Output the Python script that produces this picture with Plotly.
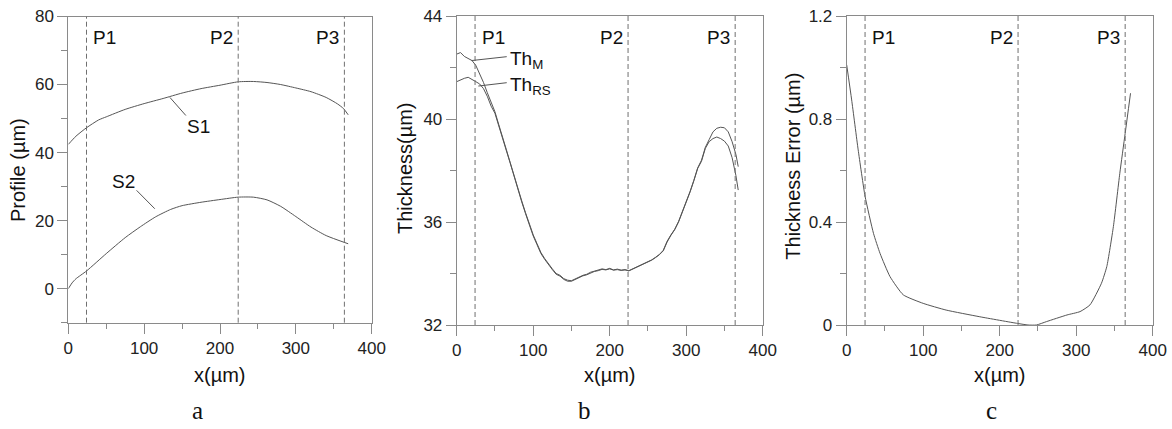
import plotly.graph_objects as go

# ---------------- data ----------------
P_POS = [24, 224, 364]
P_LABELS = ["P1", "P2", "P3"]

# panel a
S1_X = [0, 10, 24, 40, 50, 75, 100, 125, 150, 175, 200, 224, 244, 262, 280, 300, 320, 340, 355, 363, 369]
S1_Y = [42.4, 44.8, 47.3, 49.6, 50.5, 52.7, 54.4, 55.9, 57.5, 58.8, 59.8, 60.8, 60.9, 60.6, 60.0, 59.0, 57.9, 56.2, 54.3, 52.9, 51.1]
S2_X = [0, 5, 10, 24, 50, 75, 95, 115, 135, 150, 175, 200, 224, 244, 262, 280, 300, 320, 340, 369]
S2_Y = [0, 1.7, 2.9, 5.2, 10.3, 15.0, 18.2, 21.1, 23.3, 24.4, 25.4, 26.2, 26.9, 26.9, 26.1, 24.2, 21.2, 18.1, 15.6, 13.2]

# panel b
TH_X = [0, 5, 10, 15, 20, 25, 30, 35, 40, 45, 50, 55, 60, 65, 70, 75, 80, 85, 90, 95,
        100, 105, 110, 115, 120, 125, 130, 135, 140, 145, 150, 155, 160, 165, 170, 175,
        180, 185, 190, 195, 200, 205, 210, 215, 220, 225, 230, 235, 240, 245, 250, 255,
        260, 265, 270, 275, 280, 285, 290, 295, 300, 305, 310, 315, 320, 325, 330, 335,
        340, 345, 350, 355, 360, 365, 368]
TH_M = [42.52, 42.58, 42.43, 42.36, 42.27, 42.08, 41.78, 41.42, 41.02, 40.66, 40.28, 39.78,
        39.25, 38.80, 38.30, 37.80, 37.25, 36.82, 36.36, 35.92, 35.50, 35.16, 34.82, 34.58,
        34.36, 34.18, 34.00, 33.93, 33.80, 33.74, 33.72, 33.80, 33.86, 33.93, 33.97, 34.05,
        34.09, 34.13, 34.18, 34.15, 34.20, 34.14, 34.17, 34.13, 34.15, 34.11, 34.18, 34.24,
        34.30, 34.36, 34.45, 34.53, 34.63, 34.74, 34.90, 35.25, 35.50, 35.72, 36.02, 36.40,
        36.80, 37.18, 37.62, 38.10, 38.40, 38.90, 39.20, 39.50, 39.64, 39.68, 39.66, 39.50,
        39.12, 38.62, 38.15]
TH_RS = [41.45, 41.52, 41.58, 41.62, 41.52, 41.45, 41.36, 41.18, 40.88, 40.50, 40.22, 39.76,
         39.22, 38.76, 38.28, 37.76, 37.22, 36.78, 36.32, 35.88, 35.46, 35.12, 34.78, 34.55,
         34.33, 34.15, 33.97, 33.90, 33.77, 33.70, 33.70, 33.78, 33.84, 33.91, 33.95, 34.03,
         34.08, 34.11, 34.16, 34.14, 34.18, 34.13, 34.15, 34.12, 34.14, 34.10, 34.17, 34.23,
         34.29, 34.35, 34.44, 34.52, 34.62, 34.73, 34.88, 35.22, 35.48, 35.70, 36.00, 36.38,
         36.78, 37.16, 37.60, 38.08, 38.36, 38.86, 39.12, 39.24, 39.30, 39.24, 39.14, 38.95,
         38.50, 37.80, 37.24]

# panel c
ERR_X = [0, 6.5, 15, 24, 35, 43.6, 56.6, 74, 100, 130, 174, 223.5, 237, 248, 261, 288, 305, 318, 333, 340, 348.6, 357, 364, 371]
ERR_Y = [1.01, 0.874, 0.68, 0.5, 0.356, 0.278, 0.188, 0.117, 0.084, 0.058, 0.032, 0.006, 0, 0, 0.013, 0.039, 0.052, 0.078, 0.162, 0.227, 0.382, 0.589, 0.744, 0.9]

# ---------------- figure ----------------
W, H = 1172, 429
LINE = "#555555"
AX = "#8a8a8a"
SANS = "Liberation Sans, Arial, sans-serif"
SERIF = "Liberation Serif, Times New Roman, serif"

fig = go.Figure()

fig.add_trace(go.Scatter(x=S1_X, y=S1_Y, mode="lines", line=dict(color=LINE, width=1, shape="spline", smoothing=0.6), xaxis="x", yaxis="y"))
fig.add_trace(go.Scatter(x=S2_X, y=S2_Y, mode="lines", line=dict(color=LINE, width=1, shape="spline", smoothing=0.6), xaxis="x", yaxis="y"))
fig.add_trace(go.Scatter(x=TH_X, y=TH_M, mode="lines", line=dict(color=LINE, width=1), xaxis="x2", yaxis="y2"))
fig.add_trace(go.Scatter(x=TH_X, y=TH_RS, mode="lines", line=dict(color=LINE, width=1), xaxis="x2", yaxis="y2"))
fig.add_trace(go.Scatter(x=ERR_X, y=ERR_Y, mode="lines", line=dict(color=LINE, width=1, shape="spline", smoothing=0.5), xaxis="x3", yaxis="y3"))

def px_x(p):
    return p / W

def px_y(p):
    return 1 - p / H

common_x = dict(range=[0, 400], dtick=100, tick0=0, ticks="outside", ticklen=10, tickcolor=AX,
                showline=True, linecolor=AX, linewidth=1, mirror=True, showgrid=False, zeroline=False,
                automargin=False, ticklabeloverflow="allow",
                tickfont=dict(family=SANS, size=17, color="#222"), ticklabelstandoff=0,
                minor=dict(dtick=50, tick0=0, ticks="outside", ticklen=5, tickcolor=AX))
common_y = dict(ticks="outside", ticklen=10, tickcolor=AX,
                showline=True, linecolor=AX, linewidth=1, mirror=True, showgrid=False, zeroline=False,
                automargin=False, ticklabeloverflow="allow",
                tickfont=dict(family=SANS, size=17, color="#222"), ticklabelstandoff=0)

xdoms = [[px_x(68.3), px_x(371.7)], [px_x(456.7), px_x(762.7)], [px_x(846.7), px_x(1152.7)]]
ydoms = [[px_y(322.7), px_y(16.5)], [px_y(325), px_y(16)], [px_y(325), px_y(16)]]

fig.update_layout(
    xaxis=dict(common_x, domain=xdoms[0], anchor="y"),
    yaxis=dict(common_y, domain=ydoms[0], anchor="x", range=[-10, 80], dtick=20, tick0=0,
               minor=dict(dtick=10, tick0=0, ticks="outside", ticklen=6, tickcolor=AX)),
    xaxis2=dict(common_x, domain=xdoms[1], anchor="y2"),
    yaxis2=dict(common_y, domain=ydoms[1], anchor="x2", range=[32, 44], dtick=4, tick0=32,
                minor=dict(dtick=2, tick0=32, ticks="outside", ticklen=6, tickcolor=AX)),
    xaxis3=dict(common_x, domain=xdoms[2], anchor="y3"),
    yaxis3=dict(common_y, domain=ydoms[2], anchor="x3", range=[0, 1.2], dtick=0.4, tick0=0,
                tickformat=".1~f",
                minor=dict(dtick=0.2, tick0=0, ticks="outside", ticklen=6, tickcolor=AX)),
    width=W, height=H, margin=dict(l=0, r=0, t=0, b=0, autoexpand=False),
    paper_bgcolor="white", plot_bgcolor="white", showlegend=False,
)

shapes = []
annotations = []
for i, (xa, ya) in enumerate([("x", "y"), ("x2", "y2"), ("x3", "y3")]):
    for p, lab in zip(P_POS, P_LABELS):
        shapes.append(dict(type="line", xref=xa, yref=f"{ya} domain", x0=p, x1=p, y0=0, y1=1,
                           line=dict(color="#707070", width=1, dash="5px,3px")))
    # P labels
    annotations.append(dict(x=P_POS[0] + 6, y=px_y(37.3), xref=xa, yref="paper", text=P_LABELS[0],
                            showarrow=False, xanchor="left", yanchor="middle",
                            font=dict(family=SANS, size=19, color="#111")))
    annotations.append(dict(x=P_POS[1] - 4, y=px_y(37.3), xref=xa, yref="paper", text=P_LABELS[1],
                            showarrow=False, xanchor="right", yanchor="middle",
                            font=dict(family=SANS, size=19, color="#111")))
    annotations.append(dict(x=P_POS[2] - 4, y=px_y(37.3), xref=xa, yref="paper", text=P_LABELS[2],
                            showarrow=False, xanchor="right", yanchor="middle",
                            font=dict(family=SANS, size=19, color="#111")))
    # x titles
    cx = (xdoms[i][0] + xdoms[i][1]) / 2
    annotations.append(dict(x=cx, y=px_y(375), xref="paper", yref="paper", text="x(µm)", showarrow=False,
                            xanchor="center", yanchor="middle", font=dict(family=SANS, size=20, color="#111")))

# y titles
for txt, xc, yc in [("Profile (µm)", 18, 170), ("Thickness(µm)", 405, 168), ("Thickness Error (µm)", 792.7, 166)]:
    annotations.append(dict(x=px_x(xc), y=px_y(yc), xref="paper", yref="paper", text=txt, textangle=-90,
                            showarrow=False, xanchor="center", yanchor="middle",
                            font=dict(family=SANS, size=20, color="#111")))

# panel letters
for txt, xc in [("a", 198), ("b", 584), ("c", 991)]:
    annotations.append(dict(x=px_x(xc), y=px_y(410), xref="paper", yref="paper", text=txt, showarrow=False,
                            xanchor="center", yanchor="middle", font=dict(family=SERIF, size=25, color="#111")))

# curve labels with leader lines
LBL = dict(family=SANS, size=19, color="#111")
annotations.append(dict(x=171, y=47.7, xref="x", yref="y", text="S1", showarrow=False, font=LBL))
annotations.append(dict(x=73.4, y=31.5, xref="x", yref="y", text="S2", showarrow=False, font=LBL))
shapes.append(dict(type="line", xref="x", yref="y", x0=134, y0=56.2, x1=155, y1=50.9, line=dict(color=LINE, width=1)))
shapes.append(dict(type="line", xref="x", yref="y", x0=90, y0=28.9, x1=114, y1=23.5, line=dict(color=LINE, width=1)))

annotations.append(dict(x=67.5, y=42.3, xref="x2", yref="y2", text="Th<sub>M</sub>", showarrow=False,
                        xanchor="left", yanchor="middle", font=LBL))
annotations.append(dict(x=67.5, y=41.3, xref="x2", yref="y2", text="Th<sub>RS</sub>", showarrow=False,
                        xanchor="left", yanchor="middle", font=LBL))
shapes.append(dict(type="line", xref="x2", yref="y2", x0=19.6, y0=42.27, x1=65.4, y1=42.42, line=dict(color=LINE, width=1)))
shapes.append(dict(type="line", xref="x2", yref="y2", x0=28.3, y0=41.28, x1=65.4, y1=41.41, line=dict(color=LINE, width=1)))

fig.update_layout(shapes=shapes, annotations=annotations)
fig.write_html(
    "out.html",
    config={"displayModeBar": False},
    post_script="document.body.style.margin='0';document.body.style.overflow='hidden';",
)
